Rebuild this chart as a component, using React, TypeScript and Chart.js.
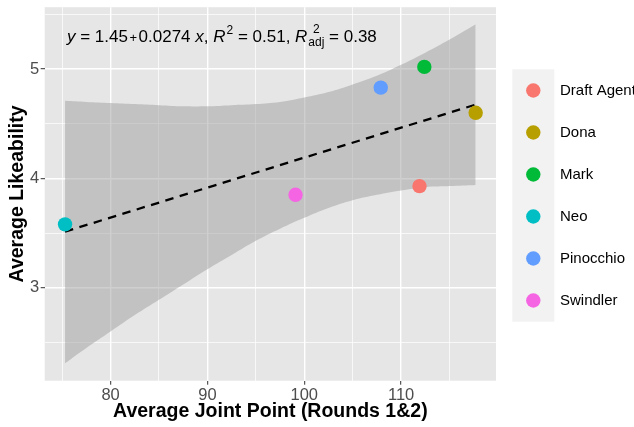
import { useEffect, useRef } from 'react';
import { Chart, registerables } from 'chart.js';

Chart.register(...registerables);

// Characters and their scores
const names = ['Draft Agent', 'Dona', 'Mark', 'Neo', 'Pinocchio', 'Swindler'];
const colors = ['#F8766D', '#B79F00', '#00BA38', '#00BFC4', '#619CFF', '#F564E3'];
const jointPoints = [111.9, 117.7, 112.4, 75.3, 107.9, 99.1];
const likeability = [3.93, 4.6, 5.02, 3.58, 4.83, 3.85];

// Fitted linear model
const intercept = 1.45;
const slope = 0.0274;
const r2 = 0.51;
const r2adj = 0.38;

// 95% confidence band around the fit
const bandX = [75.3, 77.5, 80, 82.5, 85, 87.5, 90, 92.5, 95, 97.5, 100, 102.5, 105, 107.5, 110, 112.5, 115, 117.7];
const bandUpper = [4.71, 4.7, 4.69, 4.68, 4.67, 4.66, 4.66, 4.67, 4.68, 4.7, 4.74, 4.79, 4.86, 4.94, 5.04, 5.15, 5.27, 5.41];
const bandLower = [2.31, 2.45, 2.6, 2.75, 2.89, 3.03, 3.17, 3.3, 3.43, 3.54, 3.64, 3.73, 3.8, 3.85, 3.89, 3.92, 3.93, 3.94];

// Axis ticks
const xMajorTicks = [80, 90, 100, 110];
const xMinorTicks = [75, 85, 95, 105, 115];
const yMajorTicks = [3, 4, 5];
const yMinorTicks = [2.5, 3.5, 4.5, 5.5];

const FONT = '"Liberation Sans", Arial, Helvetica, sans-serif';

const panelBackground = {
  id: 'panelBackground',
  beforeDraw(chart: any) {
    const { ctx, chartArea, width, height } = chart;
    ctx.save();
    ctx.fillStyle = '#FFFFFF';
    ctx.fillRect(0, 0, width, height);
    ctx.fillStyle = '#E6E6E6';
    ctx.fillRect(chartArea.left, chartArea.top, chartArea.right - chartArea.left, chartArea.bottom - chartArea.top);
    ctx.restore();
  },
};

// Regression equation drawn in the top-left of the panel
const equationLabel = {
  id: 'equationLabel',
  afterDraw(chart: any) {
    const { ctx } = chart;
    const size = 17;
    const small = 12;
    const normal = `${size}px ${FONT}`;
    const italic = `italic ${size}px ${FONT}`;
    const smallFont = `${small}px ${FONT}`;
    let x = 67;
    const base = 41.5;
    ctx.save();
    ctx.fillStyle = '#000000';
    ctx.textBaseline = 'alphabetic';
    ctx.textAlign = 'left';
    const put = (text: string, font: string, dy = 0) => {
      ctx.font = font;
      ctx.fillText(text, x, base + dy);
      x += ctx.measureText(text).width;
    };
    put('y', italic);
    put(` = ${intercept.toFixed(2)}`, normal);
    x += 1.5;
    put('+', `${small + 1}px ${FONT}`);
    x += 1.5;
    put(`${slope.toFixed(4)} `, normal);
    put('x', italic);
    put(', ', normal);
    put('R', italic);
    x += 1;
    put('2', smallFont, -7.5);
    put(` = ${r2.toFixed(2)}, `, normal);
    put('R', italic);
    x += 1;
    // stacked superscript/subscript
    const sx = x;
    ctx.font = smallFont;
    const wAdj = ctx.measureText('adj').width;
    const w2 = ctx.measureText('2').width;
    ctx.fillText('2', sx + (wAdj - w2) / 2, base - 8.5);
    ctx.fillText('adj', sx, base + 4.5);
    x = sx + wAdj;
    put(` = ${r2adj.toFixed(2)}`, normal);
    ctx.restore();
  },
};

// Colour key on the right
const colourKey = {
  id: 'colourKey',
  afterDraw(chart: any) {
    const { ctx } = chart;
    ctx.save();
    ctx.fillStyle = '#F2F2F2';
    ctx.fillRect(512.3, 69.3, 42, 252.4);
    names.forEach((name, i) => {
      const cy = 90.5 + i * 42;
      ctx.beginPath();
      ctx.arc(533.3, cy, 7.2, 0, Math.PI * 2);
      ctx.fillStyle = colors[i];
      ctx.fill();
      ctx.fillStyle = '#000000';
      ctx.font = `15px ${FONT}`;
      ctx.textBaseline = 'middle';
      ctx.textAlign = 'left';
      ctx.fillText(name, 560, cy);
    });
    ctx.restore();
  },
};

export default function App() {
  const canvasRef = useRef<HTMLCanvasElement | null>(null);

  useEffect(() => {
    document.body.style.margin = '0';
    const canvas = canvasRef.current;
    if (!canvas) return;

    const xFit = [Math.min(...jointPoints), Math.max(...jointPoints)];

    const pointSets = names.map((name, i) => ({
      type: 'scatter' as const,
      label: name,
      data: [{ x: jointPoints[i], y: likeability[i] }],
      backgroundColor: colors[i],
      borderWidth: 0,
      pointRadius: 7.2,
      order: 0,
    }));

    const chart = new Chart(canvas, {
      type: 'scatter',
      data: {
        datasets: [
          ...pointSets,
          {
            type: 'line' as const,
            label: 'fit',
            data: xFit.map((x) => ({ x, y: intercept + slope * x })),
            borderColor: '#000000',
            borderWidth: 2.3,
            borderDash: [8.5, 6.5],
            pointRadius: 0,
            fill: false,
            order: 1,
          },
          {
            type: 'line' as const,
            label: 'upper',
            data: bandX.map((x, i) => ({ x, y: bandUpper[i] })),
            borderWidth: 0,
            borderColor: 'rgba(0,0,0,0)',
            pointRadius: 0,
            tension: 0.4,
            fill: '+1',
            backgroundColor: 'rgba(153,153,153,0.47)',
            order: 2,
          },
          {
            type: 'line' as const,
            label: 'lower',
            data: bandX.map((x, i) => ({ x, y: bandLower[i] })),
            borderWidth: 0,
            borderColor: 'rgba(0,0,0,0)',
            pointRadius: 0,
            tension: 0.4,
            fill: false,
            order: 3,
          },
        ] as any,
      },
      options: {
        animation: false,
        responsive: false,
        devicePixelRatio: 1,
        layout: { padding: { top: 5, right: 138, left: 0, bottom: 0 } },
        plugins: {
          legend: { display: false },
          tooltip: { enabled: false },
        },
        scales: {
          x: {
            type: 'linear',
            min: 73.2,
            max: 119.8,
            afterBuildTicks: (axis: any) => {
              axis.ticks = [...xMinorTicks, ...xMajorTicks].sort((a, b) => a - b).map((v) => ({ value: v }));
            },
            afterFit: (axis: any) => {
              axis.height = 46.3;
              axis.paddingLeft = 0;
              axis.paddingRight = 0;
            },
            ticks: {
              autoSkip: false,
              maxRotation: 0,
              padding: 1,
              color: '#4D4D4D',
              font: { family: FONT, size: 16.5 },
              callback: (v: any) => (xMajorTicks.includes(v) ? String(v) : ''),
            },
            grid: {
              color: '#FFFFFF',
              lineWidth: (c: any) => (xMajorTicks.includes(c.tick?.value) ? 1.4 : 0.7),
              tickLength: 4,
              tickWidth: 1,
              tickColor: (c: any) => (xMajorTicks.includes(c.tick?.value) ? '#333333' : 'rgba(0,0,0,0)'),
            },
            border: { display: false },
            title: {
              display: true,
              text: 'Average Joint Point (Rounds 1&2)',
              color: '#000000',
              font: { family: FONT, size: 19.5, weight: 'bold' },
              padding: { top: 0, bottom: 4 },
            },
          },
          y: {
            type: 'linear',
            min: 2.15,
            max: 5.566,
            afterBuildTicks: (axis: any) => {
              axis.ticks = [...yMinorTicks, ...yMajorTicks].sort((a, b) => a - b).map((v) => ({ value: v }));
            },
            afterFit: (axis: any) => {
              axis.width = 44.7;
              axis.paddingTop = 0;
              axis.paddingBottom = 0;
            },
            ticks: {
              padding: 1.5,
              color: '#4D4D4D',
              font: { family: FONT, size: 16.5 },
              callback: (v: any) => (yMajorTicks.includes(v) ? String(v) : ''),
            },
            grid: {
              color: '#FFFFFF',
              lineWidth: (c: any) => (yMajorTicks.includes(c.tick?.value) ? 1.4 : 0.7),
              tickLength: 4,
              tickWidth: 1,
              tickColor: (c: any) => (yMajorTicks.includes(c.tick?.value) ? '#333333' : 'rgba(0,0,0,0)'),
            },
            border: { display: false },
            title: {
              display: true,
              text: 'Average Likeability',
              color: '#000000',
              font: { family: FONT, size: 19.5, weight: 'bold' },
              padding: { top: 6, bottom: 0 },
            },
          },
        },
      } as any,
      plugins: [panelBackground, equationLabel, colourKey],
    });

    return () => chart.destroy();
  }, []);

  return (
    <div style={{ width: 634, height: 427 }}>
      <canvas ref={canvasRef} width={634} height={427} />
    </div>
  );
}
